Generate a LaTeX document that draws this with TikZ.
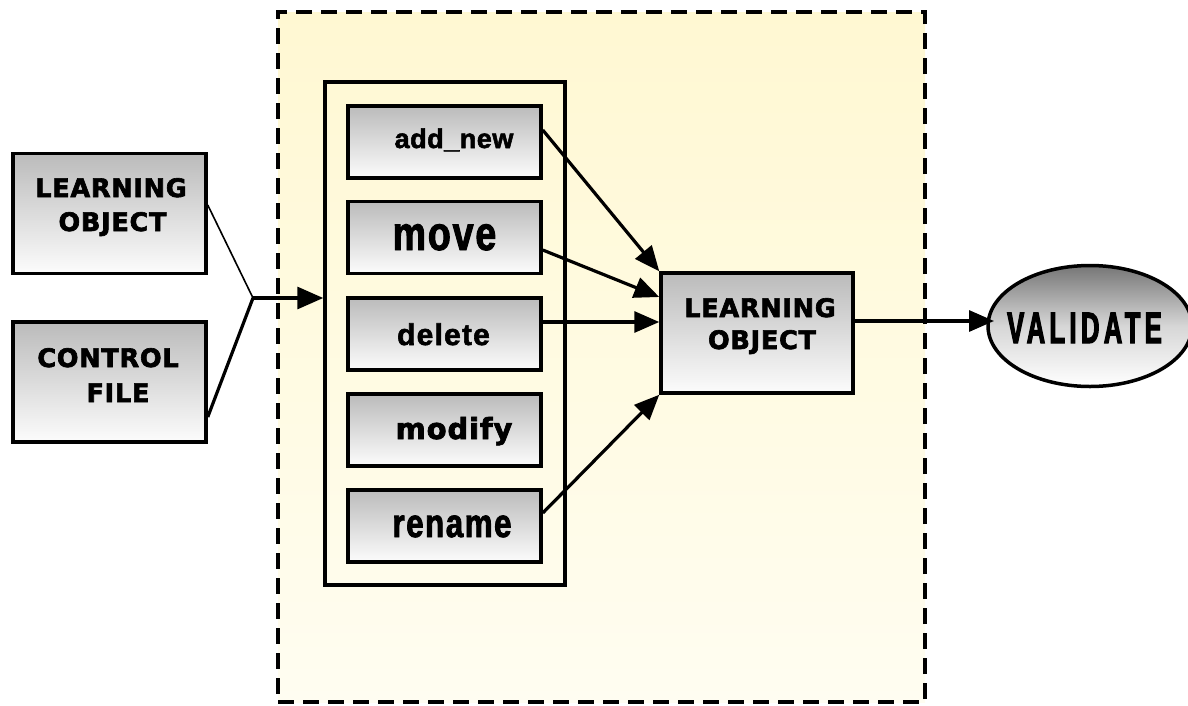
\documentclass[tikz,border=0pt]{standalone}
\usepackage{fontspec}
\usepackage{graphicx}
\usetikzlibrary{arrows.meta,shapes.geometric,calc}
\newfontfamily\fHeavy[LetterSpace=3,FakeBold=2.5]{DejaVu Sans}
\newfontfamily\fLib[LetterSpace=2,FakeBold=2]{Liberation Sans}
\newfontfamily\fLibSp[LetterSpace=4,FakeBold=2]{Liberation Sans}
\newfontfamily\fMove[FakeStretch=0.78,LetterSpace=4,FakeBold=2]{Liberation Sans}
\newfontfamily\fVal[FakeStretch=0.58,LetterSpace=10,FakeBold=2.5]{Liberation Sans}
\definecolor{gtop}{HTML}{BBBBBB}
\definecolor{gbot}{HTML}{FCFCFC}
\definecolor{etop}{HTML}{767676}
\definecolor{ytop}{HTML}{FFF8D2}
\definecolor{ybot}{HTML}{FFFDF1}
\tikzset{
  box/.style={draw, line width=3.5pt, top color=gtop, bottom color=gbot, minimum width=193pt, inner sep=0pt},
  opbox/.style={box, minimum height=72pt},
  bigbox/.style={box, minimum height=120pt},
  txt/.style={anchor=base, inner sep=0pt, text=black},
  arr/.style={line width=3.2pt, -{Triangle[length=25pt,width=21pt]}},
  bigtxt/.style={txt, font=\fHeavy\bfseries\fontsize{25.5}{30}\selectfont},
}
\begin{document}
\begin{tikzpicture}[x=1pt,y=-1pt]
\useasboundingbox (0,0) rectangle (1188,705);
% dashed container
\node[draw, line width=3.8pt, dash pattern=on 16pt off 9pt, top color=ytop, bottom color=ybot,
      minimum width=647pt, minimum height=690pt, inner sep=0pt] (frame) at (601.5,357) {};
% inner container
\node[draw, line width=3.5pt, minimum width=240pt, minimum height=503pt, inner sep=0pt] (inner) at (445,333.5) {};
% left boxes
\node[bigbox] (lo) at (109.5,213.5) {};
\node[bigbox] (cf) at (109.5,382) {};
% operations
\node[opbox] (addnew) at (444.5,142) {};
\node[opbox] (move) at (444.5,237.5) {};
\node[opbox] (delete) at (444.5,334) {};
\node[opbox] (modify) at (444.5,430) {};
\node[opbox] (rename) at (444.5,526) {};
% center
\node[bigbox, minimum width=192pt] (clo) at (757,333) {};
% validate
\node[ellipse, draw, line width=3.5pt, top color=etop, bottom color=white, middle color=gtop!60!white,
      minimum width=204pt, minimum height=121pt, inner sep=0pt] (val) at (1090,326) {};
% connectors
\coordinate (junc) at (253,298);
\draw[line width=1.6pt] ([yshift=8.5pt]lo.east) -- (junc);
\draw[line width=3.2pt] ([yshift=-35pt]cf.east) -- (junc);
\draw[line width=3.2pt, -{Triangle[length=26pt,width=22pt]}] (junc) -- (junc -| inner.west);
\draw[arr] ([yshift=12pt]addnew.east) -- (clo.north west);
\draw[arr] ([yshift=-12.5pt]move.east) -- ([yshift=36pt]clo.west);
\draw[arr] ([yshift=12pt]delete.east) -- ([yshift=11pt]clo.west);
\draw[arr] ([yshift=13pt]rename.east) -- (clo.south west);
\coordinate (vin) at (994,321);
\draw[arr] ([yshift=12pt]clo.east) -- (vin);
% texts
\node[bigtxt] (t1) at (111,197) {LEARNING};
\node[bigtxt] (t2) at (112.5,231) {OBJECT};
\node[bigtxt] (t3) at (108,367) {CONTROL};
\node[bigtxt] (t4) at (118,402) {FILE};
\node[bigtxt] (t5) at (760,317) {LEARNING};
\node[bigtxt] (t6) at (762,349) {OBJECT};
\node[txt, font=\fLib\bfseries\fontsize{27}{30}\selectfont] (ta) at (454,148) {add\_new};
\node[txt, font=\fMove\bfseries\fontsize{48}{50}\selectfont] (tm) at (444.5,250) {move};
\node[txt, font=\fLibSp\bfseries\fontsize{30}{34}\selectfont] (td) at (443.5,345) {delete};
\node[txt, font=\fHeavy\bfseries\fontsize{29}{34}\selectfont] (tmo) at (454,439) {modify};
\node[txt, font=\fMove\bfseries\fontsize{40}{44}\selectfont] (tr) at (452,537) {rename};
\node[txt, font=\fVal\bfseries\fontsize{44}{46}\selectfont] (tv) at (1084.5,343) {VALIDATE};
\end{tikzpicture}
\end{document}
